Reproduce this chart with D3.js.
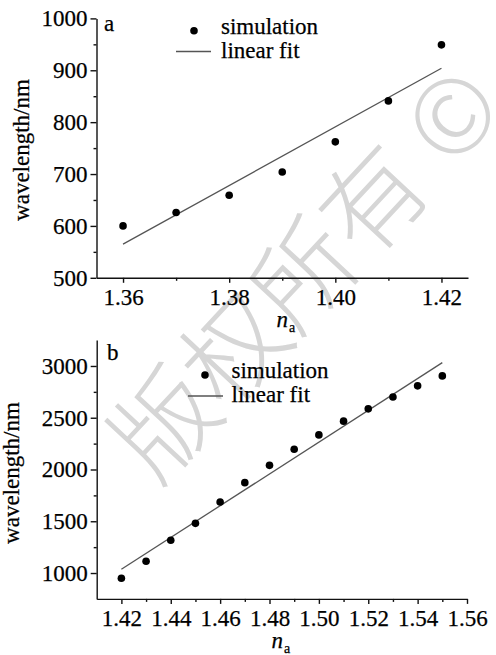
<!DOCTYPE html>
<html>
<head>
<meta charset="utf-8">
<script src="https://cdn.jsdelivr.net/npm/d3@7"></script>
</head>
<body style="margin:0;background:#fff">
<script>
// panel a
const naA = [1.36, 1.37, 1.38, 1.39, 1.40, 1.41, 1.42];
const wlA = [600, 626, 659, 704, 762, 841, 949];
const fitA = [[1.36, 565], [1.42, 904]];
const xTicksA = [1.36, 1.38, 1.40, 1.42];
const xMinorA = [1.37, 1.39, 1.41];
const yTicksA = [500, 600, 700, 800, 900, 1000];
const yMinorA = [550, 650, 750, 850, 950];

// panel b
const naB = [1.42, 1.43, 1.44, 1.45, 1.46, 1.47, 1.48, 1.49, 1.50, 1.51, 1.52, 1.53, 1.54, 1.55];
const wlB = [949, 1113, 1316, 1480, 1686, 1873, 2040, 2196, 2334, 2467, 2586, 2701, 2808, 2904];
const fitB = [[1.42, 1036], [1.55, 3032]];
const xTicksB = [1.42, 1.44, 1.46, 1.48, 1.50, 1.52, 1.54, 1.56];
const xMinorB = [1.43, 1.45, 1.47, 1.49, 1.51, 1.53, 1.55];
const yTicksB = [1000, 1500, 2000, 2500, 3000];
const yMinorB = [1250, 1750, 2250, 2750];

const serif = 'Liberation Serif';

const svg = d3.select('body').append('svg')
    .attr('width', 496)
    .attr('height', 655);

svg.append('rect').attr('width', 496).attr('height', 655).attr('fill', '#fff');

// watermark
svg.append('text')
    .attr('transform', 'translate(300,268) rotate(-47)')
    .attr('text-anchor', 'middle')
    .attr('dominant-baseline', 'central')
    .attr('font-family', 'Noto Sans CJK SC')
    .attr('font-weight', 300)
    .attr('font-size', 102)
    .attr('fill', '#d6d6d6')
    .text('版权所有 ©');

function styleAxis(a) {
    a.attr('font-family', serif).attr('font-size', 23);
    a.selectAll('text').attr('fill', '#000').attr('stroke', '#000').attr('stroke-width', 0.25);
    a.selectAll('line').attr('stroke', '#111').attr('stroke-width', 1.4);
    a.selectAll('path').attr('stroke', '#111').attr('stroke-width', 1.4);
}

function label(g, x, y, txt) {
    return g.append('text')
        .attr('x', x).attr('y', y)
        .attr('font-family', serif)
        .attr('font-size', 23)
        .attr('stroke', '#000')
        .attr('stroke-width', 0.25)
        .text(txt);
}

function panel(o) {
    const x = d3.scaleLinear().domain(o.xDomain).range(o.xRange),
        y = d3.scaleLinear().domain(o.yDomain).range(o.yRange);
    const g = svg.append('g');

    g.append('g')
        .attr('transform', 'translate(0,' + o.yRange[0] + ')')
        .call(d3.axisBottom(x).tickValues(o.xMinor).tickSize(3).tickFormat(''))
        .call(a => a.select('.domain').remove())
        .call(styleAxis);
    g.append('g')
        .attr('transform', 'translate(0,' + o.yRange[0] + ')')
        .call(d3.axisBottom(x).tickValues(o.xTicks).tickSize(5).tickSizeOuter(0).tickPadding(6)
            .tickFormat(d3.format('.2f')))
        .call(styleAxis);

    g.append('g')
        .attr('transform', 'translate(' + o.xRange[0] + ',0)')
        .call(d3.axisLeft(y).tickValues(o.yMinor).tickSize(3).tickFormat(''))
        .call(a => a.select('.domain').remove())
        .call(styleAxis);
    g.append('g')
        .attr('transform', 'translate(' + o.xRange[0] + ',0)')
        .call(d3.axisLeft(y).tickValues(o.yTicks).tickSize(6).tickSizeOuter(0).tickPadding(3)
            .tickFormat(d3.format('d')))
        .call(styleAxis);

    g.append('path')
        .datum(o.fit)
        .attr('fill', 'none')
        .attr('stroke', '#555')
        .attr('stroke-width', 1.3)
        .attr('d', d3.line().x(d => x(d[0])).y(d => y(d[1])));

    g.selectAll('.dot')
        .data(o.xs)
        .enter().append('circle')
        .attr('cx', d => x(d))
        .attr('cy', (d, i) => y(o.ys[i]))
        .attr('r', 3.8)
        .attr('fill', '#000');

    // panel letter
    label(g, o.letterPos[0], o.letterPos[1], o.letter);

    // legend
    const lg = o.legend;
    g.append('circle').attr('cx', lg.dot[0]).attr('cy', lg.dot[1]).attr('r', 3.8).attr('fill', '#000');
    g.append('line')
        .attr('stroke', '#555').attr('stroke-width', 1.3)
        .attr('x1', lg.line[0]).attr('x2', lg.line[1])
        .attr('y1', lg.line[2]).attr('y2', lg.line[2]);
    label(g, lg.tx, lg.ty[0], 'simulation');
    label(g, lg.tx, lg.ty[1], 'linear fit');

    // axis titles
    label(g, 0, 0, 'wavelength/nm')
        .attr('transform', 'translate(' + o.yTitle[0] + ',' + o.yTitle[1] + ') rotate(-90)')
        .attr('text-anchor', 'middle');
    const xt = label(g, o.xTitle[0], o.xTitle[1], null);
    xt.append('tspan').attr('font-style', 'italic').text('n');
    xt.append('tspan').attr('dx', 1).attr('dy', 5).attr('font-size', 14).text('a');
}

panel({
    xs: naA, ys: wlA, fit: fitA,
    xDomain: [1.355, 1.425], xRange: [96.5, 468],
    yDomain: [500, 1000], yRange: [277.8, 18.4],
    xTicks: xTicksA, xMinor: xMinorA, yTicks: yTicksA, yMinor: yMinorA,
    letter: 'a', letterPos: [104, 30.5],
    legend: { dot: [194, 30.7], line: [176, 211, 51.5], tx: 221, ty: [34.3, 58.3] },
    yTitle: [28.5, 150], xTitle: [276.5, 327]
});

panel({
    xs: naB, ys: wlB, fit: fitB,
    xDomain: [1.41, 1.56], xRange: [96.7, 467],
    yDomain: [750, 3250], yRange: [598.9, 340.1],
    xTicks: xTicksB, xMinor: xMinorB, yTicks: yTicksB, yMinor: yMinorB,
    letter: 'b', letterPos: [107, 360],
    legend: { dot: [205, 375], line: [188, 223, 396], tx: 231.5, ty: [378.3, 401.7] },
    yTitle: [18.5, 473], xTitle: [271.5, 648.3]
});
</script>
</body>
</html>
